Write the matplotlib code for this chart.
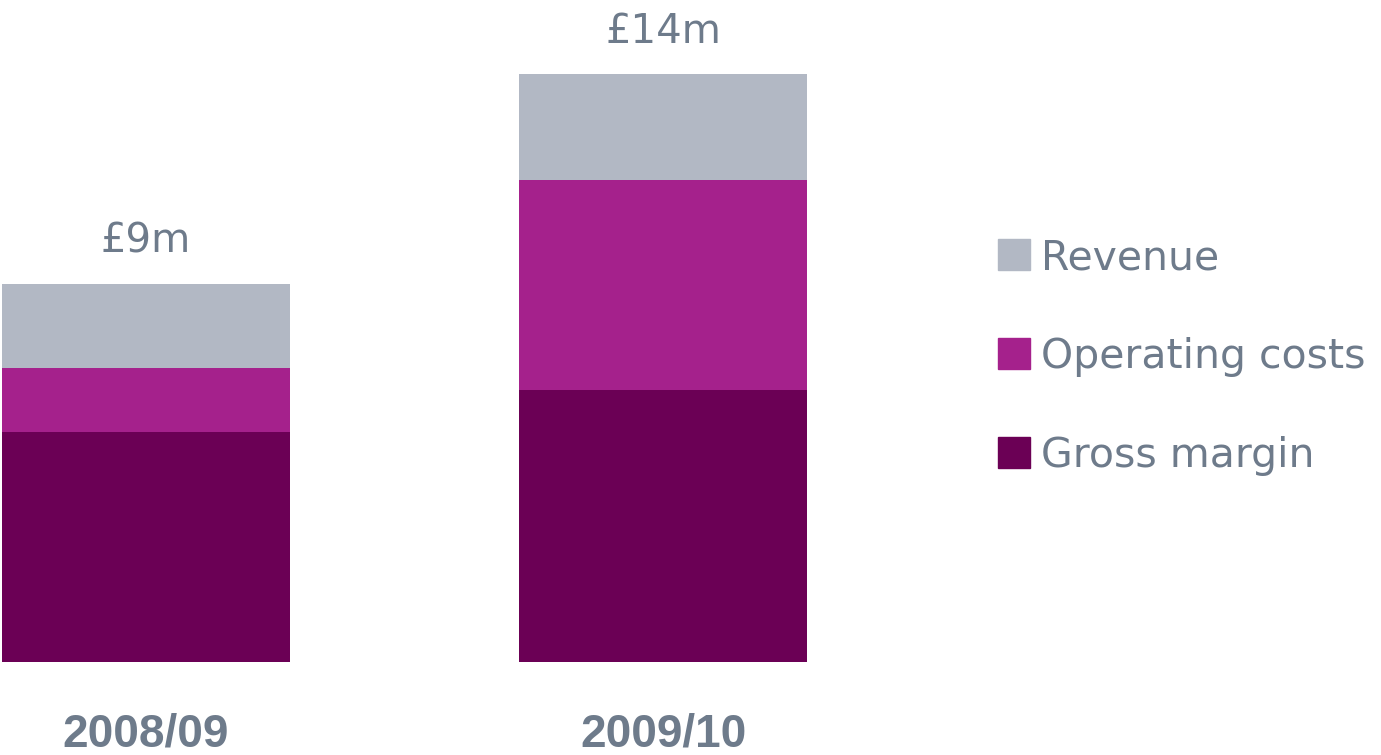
import matplotlib
matplotlib.use("Agg")
import matplotlib.pyplot as plt
from matplotlib.patches import Patch

plt.rcParams['font.family'] = ['DejaVu Sans']

# £m, stacked bottom to top
years = ['2008/09', '2009/10']
gross_margin = [5.48, 6.48]
operating_costs = [1.52, 5.00]
revenue = [2.00, 2.52]
totals = ['£9m', '£14m']

c_gross = '#6B0055'
c_ops = '#A5218C'
c_rev = '#B2B8C4'
c_text = '#6E7B8B'

W, H = 1381, 755
fig = plt.figure(figsize=(W / 100, H / 100), dpi=100)
# axes runs from the bar baseline to the top edge of the figure
ax = fig.add_axes([0, 93 / H, 1, 662 / H])

x = [0, 1]
width = 0.557
ax.bar(x, gross_margin, width, color=c_gross, label='Gross margin')
ax.bar(x, operating_costs, width, bottom=gross_margin, color=c_ops,
       label='Operating costs')
tops = [g + o for g, o in zip(gross_margin, operating_costs)]
ax.bar(x, revenue, width, bottom=tops, color=c_rev, label='Revenue')

for xi, t, g, o, r in zip(x, totals, gross_margin, operating_costs, revenue):
    ax.annotate(t, (xi, g + o + r), xytext=(0, 22.5), textcoords='offset points',
                ha='center', va='baseline', fontsize=29, color=c_text)

ax.set_xlim(-146 / 517, (W - 146) / 517)
ax.set_ylim(0, 662 / 42)
ax.set_xticks(x, years)
ax.tick_params(axis='x', length=0, pad=36.5, labelsize=33, labelcolor=c_text)
for lbl in ax.get_xticklabels():
    lbl.set_fontweight('bold')
    lbl.set_family(['Liberation Sans', 'DejaVu Sans'])
ax.set_yticks([])
for s in ax.spines.values():
    s.set_visible(False)

handles = [Patch(color=c_rev), Patch(color=c_ops), Patch(color=c_gross)]
fig.legend(handles, ['Revenue', 'Operating costs', 'Gross margin'],
           loc='upper left', bbox_to_anchor=(998 / W, 1 - 238 / H),
           frameon=False, fontsize=29.5, labelcolor=c_text,
           handlelength=0.78, handleheight=0.78, handletextpad=0.28,
           labelspacing=1.44, borderpad=0, borderaxespad=0)

fig.savefig('out.png', dpi=100)
